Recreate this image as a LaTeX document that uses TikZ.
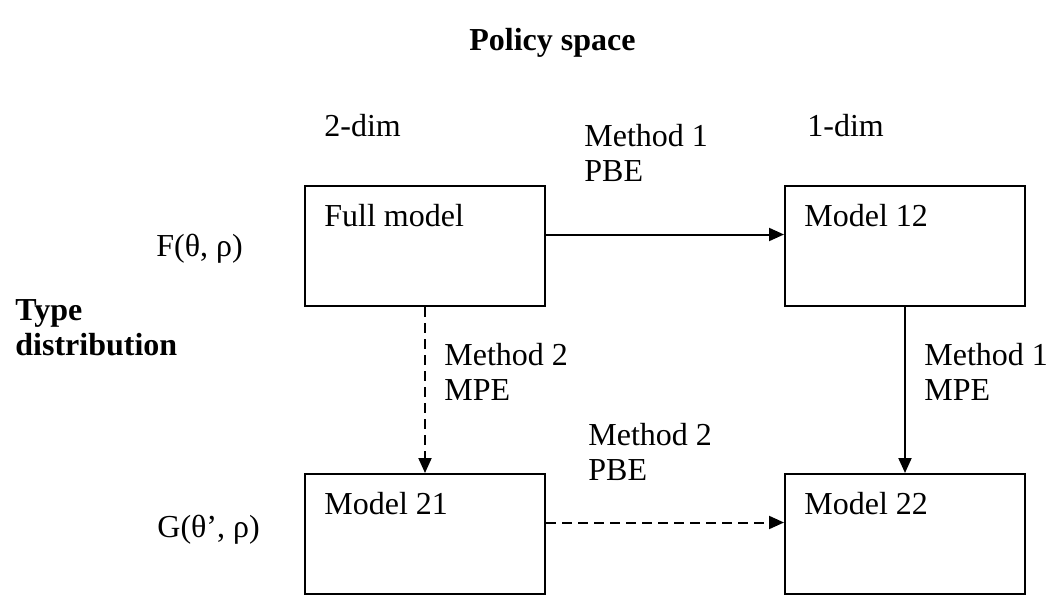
\documentclass[tikz,border=0pt]{standalone}
\usepackage{fontspec}
\setmainfont{Liberation Serif}
\usetikzlibrary{arrows.meta}
\begin{document}
\begin{tikzpicture}[x=0.5pt,y=-0.5pt,
    every node/.style={font=\fontsize{16}{17.5}\selectfont},
    box/.style={draw,line width=1pt,minimum width=120pt,minimum height=60pt,inner sep=0pt},
    boxtext/.style={anchor=base west,inner sep=0pt,xshift=10pt,yshift=-20.5pt},
    lbl/.style={anchor=base west,inner sep=0pt,align=left},
    bold/.style={font=\fontsize{16}{17.5}\selectfont\bfseries},
    flow/.style={-{Triangle[length=7.5pt,width=6.5pt]},line width=1pt},
    flowdash/.style={flow,dash pattern=on 5pt off 3pt}]
  \useasboundingbox (0,0) rectangle (1051,595);
  % models
  \node[box,label={[boxtext]north west:Full model}] (full) at (425,246) {};
  \node[box,label={[boxtext]north west:Model 12}] (m12) at (905,246) {};
  \node[box,label={[boxtext]north west:Model 21}] (m21) at (425,534) {};
  \node[box,label={[boxtext]north west:Model 22}] (m22) at (905,534) {};
  % axis texts (base = last line)
  \node[lbl,bold] (policy) at (469,50) {Policy space};
  \node[lbl] (dimtwo) at (324,136) {2-dim};
  \node[lbl] (dimone) at (807,136) {1-dim};
  \node[lbl,bold] (typedist) at (15,355) {Type\\distribution};
  \node[lbl] (fdist) at (156,256) {F(θ, ρ)};
  \node[lbl] (gdist) at (157,537) {G(θ’, ρ)};
  % methods
  \node[lbl] (mtop) at (584,181) {Method 1\\PBE};
  \node[lbl] (mleft) at (444,400) {Method 2\\MPE};
  \node[lbl] (mright) at (924,400) {Method 1\\MPE};
  \node[lbl] (mbottom) at (588,480) {Method 2\\PBE};
  \draw[flow] ([yshift=5.75pt]full.east) -- ([yshift=5.75pt]m12.west);
  \draw[flow] (m12.south) -- (m22.north);
  \draw[flowdash] (full.south) -- (m21.north);
  \draw[flowdash] ([yshift=5.75pt]m21.east) -- ([yshift=5.75pt]m22.west);
\end{tikzpicture}
\end{document}
